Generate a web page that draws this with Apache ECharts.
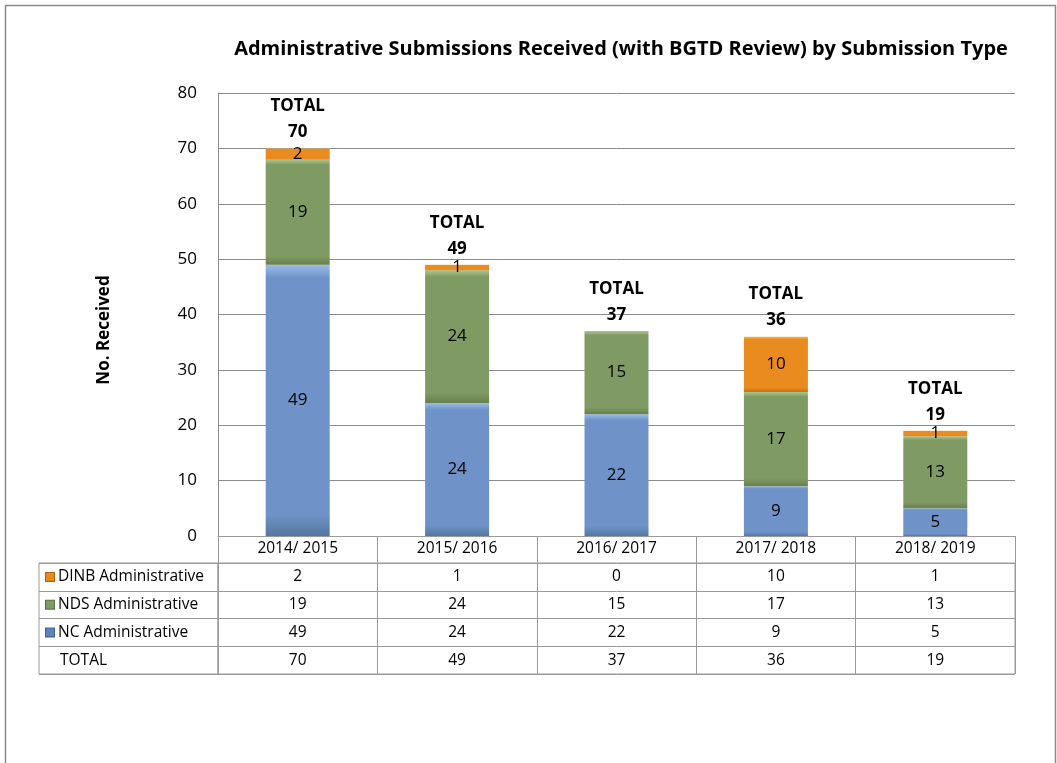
<!DOCTYPE html>
<html>
<head>
<meta charset="utf-8">
<script src="https://cdn.jsdelivr.net/npm/echarts@6/dist/echarts.min.js"></script>
<style>
html,body{margin:0;padding:0;background:#fff;}
#c{width:1057px;height:763px;}
</style>
</head>
<body>
<div id="c"></div>
<script>
var categories = ['2014/ 2015', '2015/ 2016', '2016/ 2017', '2017/ 2018', '2018/ 2019'];
var ncValues = [49, 24, 22, 9, 5];
var ndsValues = [19, 24, 15, 17, 13];
var dinbValues = [2, 1, 0, 10, 1];
var totalValues = [70, 49, 37, 36, 19];
var rowNames = ['DINB Administrative', 'NDS Administrative', 'NC Administrative', 'TOTAL'];
var yTicks = [0, 10, 20, 30, 40, 50, 60, 70, 80];

var FONT = '"Open Sans", Lato, "Liberation Sans", sans-serif';
var GRID_LINE = '#8c8c8c';
var TABLE_LINE = '#9a9a9a';

function grad(light, mid, dark) {
  return {
    type: 'linear', x: 0, y: 0, x2: 0, y2: 1,
    colorStops: [
      {offset: 0, color: light},
      {offset: 0.05, color: mid},
      {offset: 0.92, color: mid},
      {offset: 1, color: dark}
    ]
  };
}
var colNC = grad('#9dbbe6', '#6f93c8', '#55779f');
var colNDS = grad('#adc690', '#7f9b63', '#66804c');
var colDINB = grad('#f5b85a', '#e98b1f', '#c87214');
var iconNC = '#5f84bd', iconNDS = '#7f9b63', iconDINB = '#e8891d';

var segLabel = {
  show: true, position: 'inside', color: '#000', fontSize: 17, fontFamily: FONT,
  formatter: function (p) { return p.value ? String(p.value) : ''; }
};

var rowData = [dinbValues, ndsValues, ncValues, totalValues];
var tableSeries = rowData.map(function (vals, r) {
  return {
    type: 'scatter', xAxisIndex: 1, yAxisIndex: 1, symbolSize: 0, silent: true,
    itemStyle: {opacity: 1},
    data: vals.map(function (v, i) { return [i, r, v]; }),
    label: {
      show: true, position: 'inside', color: '#000', fontSize: 15.5, fontFamily: FONT,
      formatter: function (p) { return String(p.value[2]); }
    }
  };
});

var chart = echarts.init(document.getElementById('c'), null, {renderer: 'canvas'});
var option = {
  backgroundColor: '#fff',
  animation: false,
  title: {
    text: 'Administrative Submissions Received (with BGTD Review) by Submission Type',
    left: 616, top: 34, textAlign: 'center',
    textStyle: {fontFamily: FONT, fontWeight: 'bold', fontSize: 20, color: '#000'}
  },
  grid: [
    {left: 218, right: 42, top: 93, height: 443},
    {left: 218, right: 42, top: 563, height: 111, show: true, borderColor: TABLE_LINE, borderWidth: 1},
    {left: 39, width: 179, top: 563, height: 111, show: true, borderColor: TABLE_LINE, borderWidth: 1}
  ],
  xAxis: [
    {
      gridIndex: 0, type: 'category', data: categories,
      axisLine: {show: true, lineStyle: {color: TABLE_LINE}},
      axisTick: {show: true, length: 27, lineStyle: {color: TABLE_LINE}},
      axisLabel: {color: '#000', fontSize: 15.5, fontFamily: FONT, margin: 5}
    },
    {
      gridIndex: 1, type: 'category', data: categories,
      axisLine: {show: false}, axisTick: {show: false}, axisLabel: {show: false},
      splitLine: {show: true, interval: 0, lineStyle: {color: TABLE_LINE}}
    },
    {gridIndex: 2, type: 'value', show: false, min: 0, max: 1}
  ],
  yAxis: [
    {
      gridIndex: 0, type: 'value', min: yTicks[0], max: yTicks[yTicks.length - 1], interval: 10,
      axisLine: {show: true, lineStyle: {color: GRID_LINE}},
      axisTick: {show: false},
      axisLabel: {color: '#000', fontSize: 17, fontFamily: FONT, margin: 21},
      splitLine: {show: true, lineStyle: {color: GRID_LINE}}
    },
    {
      gridIndex: 1, type: 'category', data: rowNames, inverse: true,
      axisLine: {show: false}, axisTick: {show: false}, axisLabel: {show: false},
      splitLine: {show: true, interval: 0, lineStyle: {color: TABLE_LINE}}
    },
    {
      gridIndex: 2, type: 'category', data: rowNames, inverse: true,
      axisLine: {show: false}, axisTick: {show: false},
      splitLine: {show: true, interval: 0, lineStyle: {color: TABLE_LINE}},
      axisLabel: {
        inside: true, margin: 7, fontSize: 15.5, fontFamily: FONT, color: '#000',
        formatter: function (v) {
          if (v === 'DINB Administrative') return '{d|}{t|' + v + '}';
          if (v === 'NDS Administrative') return '{g|}{t|' + v + '}';
          if (v === 'NC Administrative') return '{b|}{t|' + v + '}';
          return '{s|}{t|' + v + '}';
        },
        rich: {
          d: {width: 8, height: 8, backgroundColor: iconDINB, borderColor: '#b06010', borderWidth: 1},
          g: {width: 8, height: 8, backgroundColor: iconNDS, borderColor: '#5a7040', borderWidth: 1},
          b: {width: 8, height: 8, backgroundColor: iconNC, borderColor: '#3f5f90', borderWidth: 1},
          s: {width: 10, height: 8},
          t: {fontSize: 15.5, fontFamily: FONT, color: '#000', padding: [0, 0, 0, 4]}
        }
      }
    }
  ],
  series: [
    {
      name: 'NC Administrative', type: 'bar', stack: 'a', barWidth: 64, data: ncValues,
      itemStyle: {color: colNC}, label: segLabel
    },
    {
      name: 'NDS Administrative', type: 'bar', stack: 'a', barWidth: 64, data: ndsValues,
      itemStyle: {color: colNDS}, label: segLabel
    },
    {
      name: 'DINB Administrative', type: 'bar', stack: 'a', barWidth: 64, data: dinbValues,
      itemStyle: {color: colDINB}, label: segLabel
    },
    {
      name: 'TOTAL', type: 'scatter', symbolSize: 0, silent: true, data: totalValues,
      itemStyle: {opacity: 1},
      label: {
        show: true, position: 'top', distance: 3, color: '#000', fontSize: 17, fontWeight: 'bold',
        fontFamily: FONT, lineHeight: 26,
        formatter: function (p) { return 'TOTAL\n' + p.value; }
      }
    }
  ].concat(tableSeries),
  graphic: [
    {
      type: 'rect', silent: true,
      shape: {x: 5.5, y: 5.5, width: 1050, height: 800},
      style: {fill: 'none', stroke: '#8a8a8a', lineWidth: 1.5}
    },
    {
      type: 'text', silent: true, x: 104, y: 330, rotation: Math.PI / 2,
      style: {
        text: 'No. Received', fontFamily: FONT, fontWeight: 'bold', fontSize: 17, fill: '#000',
        textAlign: 'center', textVerticalAlign: 'middle'
      }
    }
  ]
};
chart.setOption(option);
</script>
</body>
</html>
